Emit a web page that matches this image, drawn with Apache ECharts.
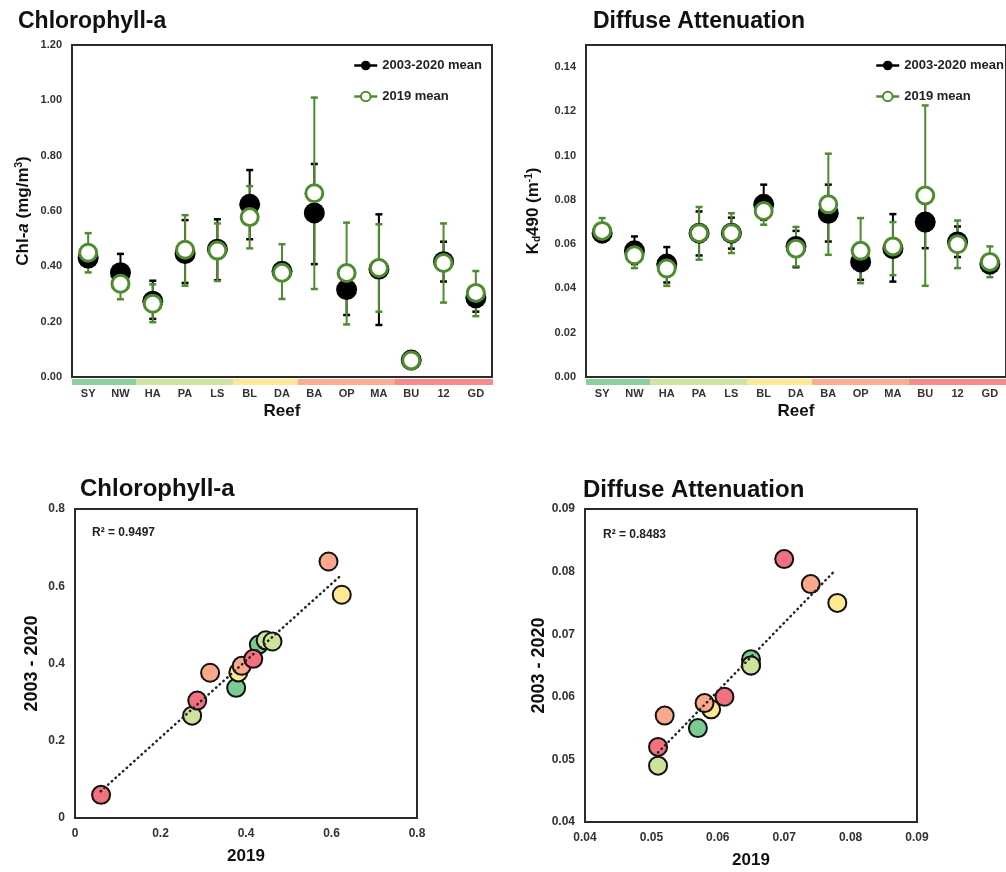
<!DOCTYPE html>
<html>
<head>
<meta charset="utf-8">
<script src="https://cdn.jsdelivr.net/npm/echarts@6/dist/echarts.min.js"></script>
<style>
  html, body { margin: 0; padding: 0; background: #fff; }
  #main { width: 1006px; height: 872px; }
</style>
</head>
<body>
<div id="main"></div>
<script>
var reefs = ['SY', 'NW', 'HA', 'PA', 'LS', 'BL', 'DA', 'BA', 'OP', 'MA', 'BU', '12', 'GD'];
// reef group (colour strip / scatter colour)
var reefGroup = [0, 0, 1, 1, 1, 2, 2, 3, 3, 3, 4, 4, 4];
var stripColors = ['#8bd09e', '#d0e4a0', '#fce996', '#fbad93', '#f98b8c'];
var dotColors = ['#7ccb92', '#cde39a', '#fde98f', '#f9a88b', '#f2717e'];

// chlorophyll-a (mg/m3)
var chlMean = [0.430, 0.377, 0.274, 0.446, 0.462, 0.624, 0.382, 0.593, 0.316, 0.390, 0.061, 0.417, 0.286];
var chlMeanLo = [0.400, 0.310, 0.210, 0.340, 0.350, 0.498, 0.350, 0.408, 0.224, 0.188, null, 0.345, 0.236];
var chlMeanHi = [0.460, 0.445, 0.348, 0.567, 0.570, 0.748, 0.410, 0.770, 0.400, 0.588, null, 0.489, 0.330];
var chl2019 = [0.449, 0.337, 0.265, 0.460, 0.457, 0.578, 0.377, 0.664, 0.376, 0.394, 0.060, 0.412, 0.304];
var chl2019Lo = [0.378, 0.281, 0.198, 0.330, 0.347, 0.465, 0.282, 0.318, 0.190, 0.236, null, 0.269, 0.220];
var chl2019Hi = [0.520, 0.390, 0.335, 0.585, 0.555, 0.690, 0.480, 1.010, 0.558, 0.552, null, 0.555, 0.383];

// Kd490 (1/m)
var kdMean = [0.065, 0.057, 0.051, 0.065, 0.065, 0.078, 0.059, 0.074, 0.052, 0.058, 0.070, 0.061, 0.051];
var kdMeanLo = [0.062, 0.051, 0.0427, 0.0549, 0.058, 0.071, 0.0496, 0.0612, 0.0439, 0.0431, 0.0582, 0.0542, 0.047];
var kdMeanHi = [0.067, 0.0635, 0.0587, 0.0748, 0.072, 0.0869, 0.066, 0.0869, 0.060, 0.0736, 0.082, 0.068, 0.055];
var kd2019 = [0.066, 0.055, 0.049, 0.065, 0.065, 0.075, 0.058, 0.078, 0.057, 0.059, 0.082, 0.060, 0.052];
var kd2019Lo = [0.062, 0.0492, 0.0412, 0.053, 0.056, 0.0688, 0.050, 0.0552, 0.0424, 0.046, 0.0412, 0.0492, 0.0451];
var kd2019Hi = [0.0718, 0.059, 0.054, 0.0768, 0.074, 0.080, 0.0678, 0.1009, 0.0718, 0.070, 0.1227, 0.0707, 0.059];

// trend lines (end points)
var chlTrendX = [0.06, 0.624];
var chlTrendY = [0.069, 0.630];
var kdTrendX = [0.051, 0.0775];
var kdTrendY = [0.0511, 0.080];

var FONT = 'Liberation Sans, Arial, sans-serif';
var GREEN = '#4f8b2f';
var AXIS = '#2b2b2b';

function errData(lo, hi) {
  var out = [];
  lo.forEach(function (v, i) {
    if (v != null && hi[i] != null) out.push([i, v, hi[i]]);
  });
  return out;
}

function errRender(color) {
  return function (params, api) {
    var top = api.coord([api.value(0), api.value(2)]);
    var bot = api.coord([api.value(0), api.value(1)]);
    var w = 3.5;
    return {
      type: 'group',
      children: [
        {type: 'line', shape: {x1: top[0], y1: top[1], x2: bot[0], y2: bot[1]}, style: {stroke: color, lineWidth: 2}},
        {type: 'line', shape: {x1: top[0] - w, y1: top[1], x2: top[0] + w, y2: top[1]}, style: {stroke: color, lineWidth: 2.5}},
        {type: 'line', shape: {x1: bot[0] - w, y1: bot[1], x2: bot[0] + w, y2: bot[1]}, style: {stroke: color, lineWidth: 2.5}}
      ]
    };
  };
}

function stripRender(params, api) {
  var i = api.value(0);
  var p = api.coord([i, 0]);
  var bw = api.size([1, 0])[0];
  return {
    type: 'rect',
    shape: {x: Math.floor(p[0] - bw / 2), y: p[1] + 2, width: Math.ceil(bw) + 1, height: 6},
    style: {fill: stripColors[reefGroup[i]]}
  };
}

var labelStyle = {fontFamily: FONT, fontWeight: 'bold', fontSize: 11, color: '#333'};
var labelStyle2 = {fontFamily: FONT, fontWeight: 'bold', fontSize: 12, color: '#333'};
var nameStyle = {fontFamily: FONT, fontWeight: 'bold', fontSize: 18, color: '#111'};
var xNameStyle = {fontFamily: FONT, fontWeight: 'bold', fontSize: 17, color: '#111'};

function catAxis(gi) {
  return {
    type: 'category', gridIndex: gi, data: reefs,
    axisLine: {lineStyle: {color: AXIS, width: 2}},
    axisTick: {inside: true, alignWithLabel: true, length: 4, lineStyle: {color: AXIS, width: 1.5}},
    axisLabel: Object.assign({margin: 11}, labelStyle),
    name: 'Reef', nameLocation: 'middle', nameGap: 26,
    nameTextStyle: xNameStyle,
    splitLine: {show: false}
  };
}

function valAxis(gi, min, max, interval, fmt, extra, lbl) {
  var ax = {
    type: 'value', gridIndex: gi, min: min, max: max, interval: interval,
    axisLine: {show: true, lineStyle: {color: AXIS, width: 2}},
    axisTick: {show: false},
    splitLine: {show: false},
    axisLabel: Object.assign({margin: 10, formatter: fmt, showMaxLabel: true}, lbl || labelStyle),
    nameLocation: 'middle', nameRotate: 90,
    nameTextStyle: nameStyle
  };
  return Object.assign(ax, extra || {});
}

var subRich = {
  b: {fontFamily: FONT, fontWeight: 'bold', fontSize: 17, color: '#111'},
  i: {fontFamily: FONT, fontWeight: 'bold', fontStyle: 'italic', fontSize: 17, color: '#111'},
  sup: {fontFamily: FONT, fontWeight: 'bold', fontSize: 10, color: '#111', verticalAlign: 'top', padding: [0, 0, 8, 0]},
  sub: {fontFamily: FONT, fontWeight: 'bold', fontSize: 10, color: '#111', padding: [8, 0, 0, 0]}
};

function pointSeries(name, data, xi, filled) {
  return {
    name: name, type: 'line', xAxisIndex: xi, yAxisIndex: xi, data: data,
    symbol: 'circle', symbolSize: filled ? 21 : 17, showSymbol: true,
    lineStyle: {color: filled ? '#000' : GREEN, opacity: 0},
    itemStyle: filled ? {color: '#000'} : {color: '#fff', borderColor: GREEN, borderWidth: 3},
    z: filled ? 4 : 5, animation: false
  };
}

function errSeries(lo, hi, xi, color, z) {
  return {
    type: 'custom', xAxisIndex: xi, yAxisIndex: xi, data: errData(lo, hi),
    renderItem: errRender(color), z: z, silent: true, animation: false
  };
}

function stripSeries(xi) {
  return {
    type: 'custom', xAxisIndex: xi, yAxisIndex: xi, clip: false,
    data: reefs.map(function (r, i) { return [i, 0]; }),
    renderItem: stripRender, z: 1, silent: true, animation: false
  };
}

function scatterSeries(xs, ys, xi) {
  return {
    type: 'scatter', xAxisIndex: xi, yAxisIndex: xi,
    data: xs.map(function (v, i) { return [v, ys[i]]; }),
    symbolSize: 18,
    itemStyle: {
      borderColor: '#111', borderWidth: 2, opacity: 1,
      color: function (p) { return dotColors[reefGroup[p.dataIndex]]; }
    },
    z: 5, animation: false
  };
}

function trendSeries(tx, ty, xi) {
  return {
    type: 'line', xAxisIndex: xi, yAxisIndex: xi,
    data: tx.map(function (v, i) { return [v, ty[i]]; }),
    symbol: 'none',
    lineStyle: {color: '#222', width: 2.5, type: [0.5, 4.5], cap: 'round'},
    z: 6, animation: false
  };
}

var legendBase = {
  orient: 'vertical', itemWidth: 23, itemHeight: 12, itemGap: 18, padding: 0,
  textStyle: {fontFamily: FONT, fontWeight: 'bold', fontSize: 13, color: '#222'},
  lineStyle: {opacity: 1, width: 2.5},
  data: ['2003-2020 mean', '2019 mean'],
  selectedMode: false
};

var titleStyle = {fontFamily: FONT, fontWeight: 'bold', fontSize: 23, color: '#111'};
var titleStyle2 = {fontFamily: FONT, fontWeight: 'bold', fontSize: 24, color: '#111'};

var option = {
  backgroundColor: '#fff',
  animation: false,
  title: [
    {text: 'Chlorophyll-a', left: 18, top: 10, padding: 0, textStyle: titleStyle},
    {text: 'Diffuse Attenuation', left: 593, top: 10, padding: 0, textStyle: titleStyle},
    {text: 'Chlorophyll-a', left: 80, top: 477, padding: 0, textStyle: titleStyle2},
    {text: 'Diffuse Attenuation', left: 583, top: 478, padding: 0, textStyle: titleStyle2}
  ],
  legend: [
    Object.assign({left: 353, top: 59}, legendBase),
    Object.assign({left: 875, top: 59}, legendBase)
  ],
  grid: [
    {left: 72, top: 45, width: 420, height: 332, show: true, borderColor: AXIS, borderWidth: 2},
    {left: 586, top: 45, width: 421, height: 332, show: true, borderColor: AXIS, borderWidth: 2},
    {left: 75, top: 509, width: 342, height: 309, show: true, borderColor: AXIS, borderWidth: 2},
    {left: 585, top: 509, width: 332, height: 313, show: true, borderColor: AXIS, borderWidth: 2}
  ],
  xAxis: [
    catAxis(0),
    catAxis(1),
    valAxis(2, 0, 0.8, 0.2, null, {name: '2019', nameRotate: 0, nameGap: 30, nameTextStyle: xNameStyle}, labelStyle2),
    valAxis(3, 0.04, 0.09, 0.01, function (v) { return v.toFixed(2); }, {name: '2019', nameRotate: 0, nameGap: 30, nameTextStyle: xNameStyle}, labelStyle2)
  ],
  yAxis: [
    valAxis(0, 0, 1.2, 0.2, function (v) { return v.toFixed(2); }, {
      name: '{b|Chl-}{i|a}{b| (mg/m}{sup|3}{b|)}', nameGap: 40,
      nameTextStyle: {rich: subRich}
    }),
    valAxis(1, 0, 0.15, 0.02, function (v) { return v.toFixed(2); }, {
      name: '{b|K}{sub|d}{b|490 (m}{sup|-1}{b|)}', nameGap: 44,
      nameTextStyle: {rich: subRich}
    }),
    valAxis(2, 0, 0.8, 0.2, null, {name: '2003 - 2020', nameGap: 34}, labelStyle2),
    valAxis(3, 0.04, 0.09, 0.01, function (v) { return v.toFixed(2); }, {name: '2003 - 2020', nameGap: 30}, labelStyle2)
  ],
  graphic: [
    {type: 'text', left: 92, top: 527, style: {text: 'R² = 0.9497', font: 'bold 12px ' + FONT, fill: '#222'}},
    {type: 'text', left: 603, top: 529, style: {text: 'R² = 0.8483', font: 'bold 12px ' + FONT, fill: '#222'}}
  ],
  series: [
    stripSeries(0),
    errSeries(chlMeanLo, chlMeanHi, 0, '#000', 2),
    errSeries(chl2019Lo, chl2019Hi, 0, GREEN, 3),
    pointSeries('2003-2020 mean', chlMean, 0, true),
    pointSeries('2019 mean', chl2019, 0, false),

    stripSeries(1),
    errSeries(kdMeanLo, kdMeanHi, 1, '#000', 2),
    errSeries(kd2019Lo, kd2019Hi, 1, GREEN, 3),
    pointSeries('2003-2020 mean', kdMean, 1, true),
    pointSeries('2019 mean', kd2019, 1, false),

    trendSeries(chlTrendX, chlTrendY, 2),
    scatterSeries(chlMean, chl2019, 2),
    trendSeries(kdTrendX, kdTrendY, 3),
    scatterSeries(kdMean, kd2019, 3)
  ]
};
option.yAxis[1].axisLabel.showMaxLabel = false;

var chart = echarts.init(document.getElementById('main'), null, {renderer: 'canvas'});
chart.setOption(option);
</script>
</body>
</html>
